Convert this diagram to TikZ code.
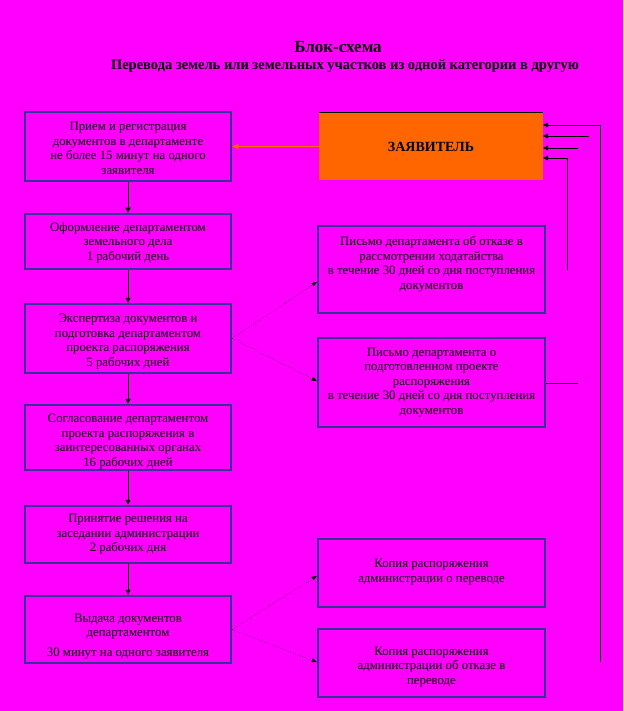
\documentclass[tikz,border=0pt]{standalone}
\usepackage{fontspec}
\setmainfont{Liberation Serif}
\usetikzlibrary{arrows.meta}
\definecolor{bg}{HTML}{FF00FF}
\definecolor{bord}{HTML}{333399}
\definecolor{orng}{HTML}{FF6600}
\begin{document}
\begin{tikzpicture}[x=1pt,y=-1pt,
  box/.style={draw=bord,line width=2.5pt,fill=bg,inner sep=0pt},
  txt/.style={align=center,font=\fontsize{12.8}{14.5}\selectfont,inner sep=0pt},
  lbox/.style={box,minimum width=206pt},
  rbox/.style={box,minimum width=227pt},
  arr/.style={-{Triangle[length=5pt,width=5pt]},line width=0.8pt,black},
  darr/.style={-{Triangle[length=5pt,width=4pt]},line width=0.5pt,dotted,black},
  fb/.style={line width=0.8pt,black}]
\fill[bg] (0,0) rectangle (623,711);
\useasboundingbox (0,0) rectangle (623,711);
\node[font=\bfseries\fontsize{17}{19}\selectfont] (t1) at (338,47) {Блок-схема};
\node[font=\bfseries\fontsize{14.5}{16}\selectfont] (t2) at (345,66) {Перевода земель или земельных участков из одной категории в другую};
% left column
\node[lbox,minimum height=69pt] (b1) at (128,146.5) {};
\node[txt] (b1t) at ([yshift=-2pt]b1.center) {Прием и регистрация\\документов в департаменте\\не более 15 минут на одного\\заявителя};
\node[lbox,minimum height=55pt] (b2) at (128,241.5) {};
\node[txt] (b2t) at ([yshift=-1pt]b2.center) {Оформление департаментом\\земельного дела\\1 рабочий день};
\node[lbox,minimum height=69pt] (b3) at (128,338.5) {};
\node[txt] (b3t) at ([yshift=-3pt]b3.center) {Экспертиза документов и\\подготовка департаментом\\проекта распоряжения\\5 рабочих дней};
\node[lbox,minimum height=65pt] (b4) at (128,437.5) {};
\node[txt] (b4t) at ([yshift=-4pt]b4.center) {Согласование департаментом\\проекта распоряжения в\\заинтересованных органах\\16 рабочих дней};
\node[lbox,minimum height=57pt] (b5) at (128,534.5) {};
\node[txt] (b5t) at (b5.center) {Принятие решения на\\заседании администрации\\2 рабочих дня};
\node[lbox,minimum height=67pt] (b6) at (128,629.5) {};
\node[txt] (b6t) at ([yshift=-7pt]b6.center) {Выдача документов\\департаментом\\[5pt]30 минут на одного заявителя};
% right column
\node[fill=orng,minimum width=224pt,minimum height=67pt,inner sep=0pt,font=\bfseries\fontsize{14}{16}\selectfont] (z) at (431,146.5) {ЗАЯВИТЕЛЬ};
\draw[line width=0.8pt] (z.north west) -- (z.north east);
\node[rbox,minimum height=87pt] (ra) at (431.5,269.5) {};
\node[txt] (rat) at ([yshift=5pt]ra.center) {Письмо департамента об отказе в\\рассмотрении ходатайства\\в течение 30 дней со дня поступления\\документов};
\node[rbox,minimum height=89pt] (rb) at (431.5,382.5) {};
\node[txt] (rbt) at (rb.center) {Письмо департамента о\\подготовленном проекте\\распоряжения\\в течение 30 дней со дня поступления\\документов};
\node[rbox,minimum height=68pt] (rc) at (431.5,573) {};
\node[txt] (rct) at ([yshift=1pt]rc.center) {Копия распоряжения\\администрации о переводе};
\node[rbox,minimum height=68pt] (rd) at (431.5,663) {};
\node[txt] (rdt) at ([yshift=-4pt]rd.center) {Копия распоряжения\\администрации об отказе в\\переводе};
% vertical arrows
\draw[arr] (b1) -- (b2);
\draw[arr] (b2) -- (b3);
\draw[arr] (b3) -- (b4);
\draw[arr] (b4) -- (b5);
\draw[arr] (b5) -- (b6);
% orange arrow
\draw[orng,line width=0.8pt,-{Triangle[length=6pt,width=5pt]}] (z.west) -- (b1.east);
% dotted arrows
\draw[darr] (b3.east) -- (ra.west |- 0,282);
\draw[darr] (b3.east) -- (rb.west |- 0,381);
\draw[darr] (b6.east) -- (rc.west |- 0,576);
\draw[darr] (b6.east) -- (rd.west |- 0,662);
% feedback lines
\coordinate (f1) at (600,662);
\coordinate (f1t) at (600,125);
\coordinate (f2) at (589,136);
\coordinate (f3) at (578,148);
\coordinate (f4) at (567,270);
\coordinate (f4t) at (567,158);
\coordinate (f5) at (578,383);
\draw[fb,arr] (f1) -- (f1t) -- (z.east |- f1t);
\draw[fb,arr] (f2) -- (z.east |- f2);
\draw[fb,arr] (f3) -- (z.east |- f3);
\draw[fb,arr] (f4) -- (f4t) -- (z.east |- f4t);
\draw[fb] (rb.east |- f5) -- (f5);
\end{tikzpicture}
\end{document}
